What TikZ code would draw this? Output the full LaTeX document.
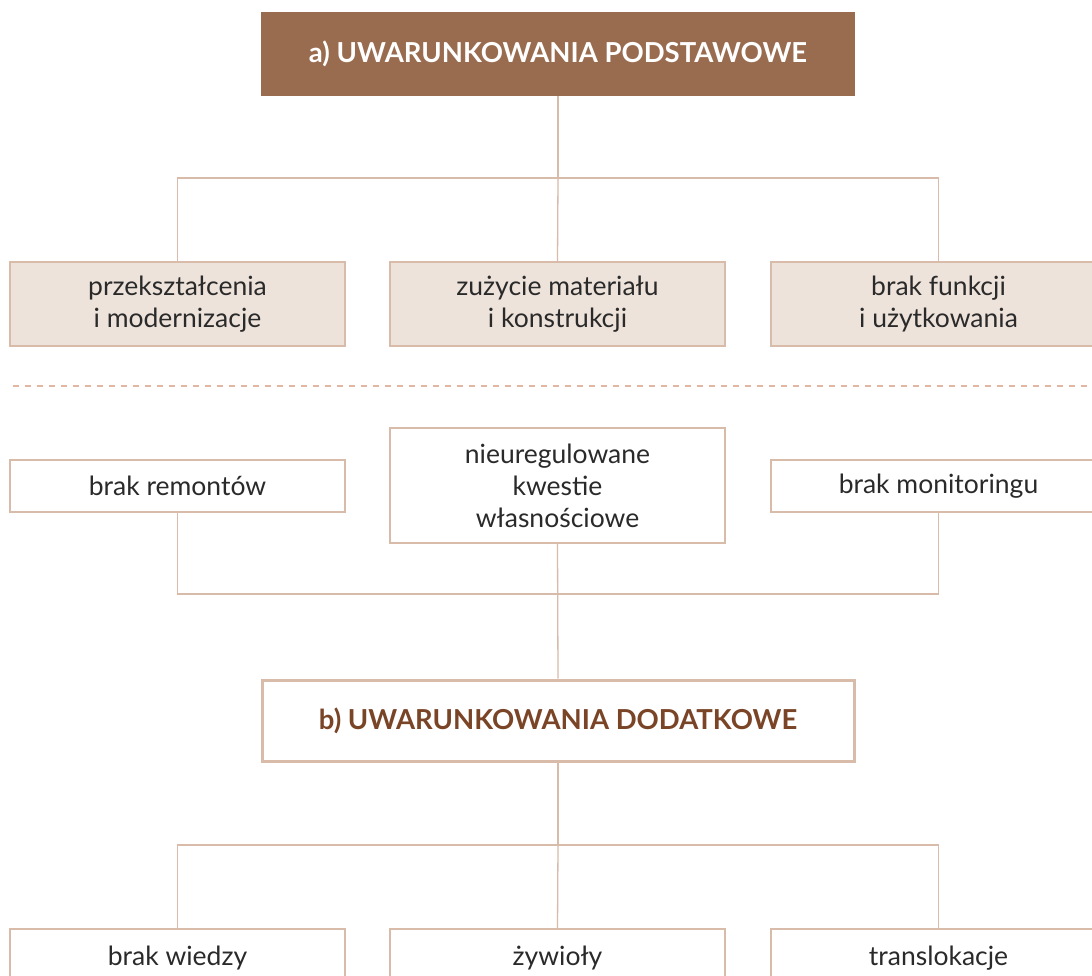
\documentclass[tikz,border=0pt]{standalone}
\usepackage{fontspec}
\setmainfont{Lato}
\usetikzlibrary{positioning}
\definecolor{brownhead}{HTML}{9A6C4F}
\definecolor{sandfill}{HTML}{EEE3DB}
\definecolor{sandline}{HTML}{D8BBA8}
\definecolor{sanddash}{HTML}{E2B7A2}
\definecolor{browntext}{HTML}{7A4427}
\definecolor{bodytext}{HTML}{2A2A2A}
\tikzset{
    boxtext/.style={font=\fontsize{26.5}{32}\selectfont, text=bodytext, align=center},
    headbox/.style={minimum width=594pt,minimum height=84pt,align=center,fill=brownhead,text=white,font=\fontsize{27.5}{32}\selectfont\bfseries},
    subhead/.style={minimum width=592pt,minimum height=81pt,align=center,fill=white,draw=sandline,line width=3pt,text=browntext,font=\fontsize{27.5}{32}\selectfont\bfseries},
    recsand/.style={boxtext,draw=sandline,fill=sandfill,line width=1.3pt,minimum width=335pt,minimum height=84pt,inner sep=0pt},
    recwht/.style={boxtext,draw=sandline,fill=white,line width=1.3pt,minimum width=335pt,inner sep=0pt},
    conn/.style={draw=sandline,line width=1.3pt}
}
\begin{document}
\begin{tikzpicture}[x=1pt,y=-1pt]
        \clip (0,0) rectangle (1092,975);
        \fill[white] (0,0) rectangle (1092,975);

        % basic conditions
        \node[headbox] (pods) at (558,54) {a) UWARUNKOWANIA PODSTAWOWE};
        \node[recsand] (prz) at (177.5,304) {przekształcenia\\i modernizacje};
        \node[recsand] (zuz) at (557.5,304) {zużycie materiału\\i konstrukcji};
        \node[recsand] (bfu) at (938.5,304) {brak funkcji\\i użytkowania};
        \coordinate (ja) at (558,178);
        \draw[conn] (pods) -- (ja);
        \draw[conn] (prz.north) |- (ja) -| (bfu.north);
        \draw[conn] (ja) -- (zuz.north);

        % separator
        \draw[draw=sanddash,line width=1.3pt,dash pattern=on 6pt off 6pt] (13,386) -- (1092,386);

        % additional conditions
        \node[recwht,minimum height=52pt] (rem) at (177.5,486) {brak remontów};
        \node[recwht,minimum height=115pt] (nie) at (557.5,485.5) {nieuregulowane\\kwestie\\własnościowe};
        \node[recwht,minimum height=52pt] (mon) at (938.5,486) {brak monitoringu};
        \coordinate (jb) at (558,594);
        \draw[conn] (rem.south) |- (jb) -| (mon.south);
        \node[subhead] (dod) at (558,720.5) {b) UWARUNKOWANIA DODATKOWE};
        \draw[conn] (nie.south) -- (dod.north);

        \node[recwht,minimum height=84pt,text height=20pt,text depth=32pt] (wie) at (177.5,971) {brak wiedzy};
        \node[recwht,minimum height=84pt,text height=20pt,text depth=32pt] (zyw) at (557.5,971) {żywioły};
        \node[recwht,minimum height=84pt,text height=20pt,text depth=32pt] (tra) at (938.5,971) {translokacje};
        \coordinate (jc) at (558,845);
        \draw[conn] (dod.south) -- (jc);
        \draw[conn] (wie.north) |- (jc) -| (tra.north);
        \draw[conn] (jc) -- (zyw.north);
\end{tikzpicture}
\end{document}
